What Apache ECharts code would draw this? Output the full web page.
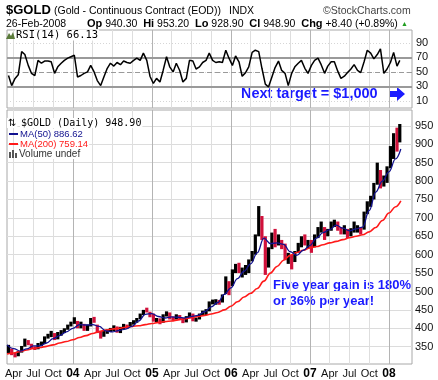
<!DOCTYPE html>
<html><head><meta charset="utf-8">
<script src="https://cdn.jsdelivr.net/npm/echarts@6/dist/echarts.min.js"></script>
<style>html,body{margin:0;padding:0;background:#fff}#c{width:438px;height:380px}</style>
</head><body><div id="c"></div>
<script>
// ---- data ----
const periods = [
'2003-03-08','2003-03-23','2003-04-08','2003-04-23','2003-05-08','2003-05-23','2003-06-08','2003-06-23','2003-07-08','2003-07-23','2003-08-08','2003-08-23','2003-09-08','2003-09-23','2003-10-08','2003-10-23','2003-11-08','2003-11-23','2003-12-08','2003-12-23',
'2004-01-08','2004-01-23','2004-02-08','2004-02-23','2004-03-08','2004-03-23','2004-04-08','2004-04-23','2004-05-08','2004-05-23','2004-06-08','2004-06-23','2004-07-08','2004-07-23','2004-08-08','2004-08-23','2004-09-08','2004-09-23','2004-10-08','2004-10-23','2004-11-08','2004-11-23','2004-12-08','2004-12-23',
'2005-01-08','2005-01-23','2005-02-08','2005-02-23','2005-03-08','2005-03-23','2005-04-08','2005-04-23','2005-05-08','2005-05-23','2005-06-08','2005-06-23','2005-07-08','2005-07-23','2005-08-08','2005-08-23','2005-09-08','2005-09-23','2005-10-08','2005-10-23','2005-11-08','2005-11-23','2005-12-08','2005-12-23',
'2006-01-08','2006-01-23','2006-02-08','2006-02-23','2006-03-08','2006-03-23','2006-04-08','2006-04-23','2006-05-08','2006-05-23','2006-06-08','2006-06-23','2006-07-08','2006-07-23','2006-08-08','2006-08-23','2006-09-08','2006-09-23','2006-10-08','2006-10-23','2006-11-08','2006-11-23','2006-12-08','2006-12-23',
'2007-01-08','2007-01-23','2007-02-08','2007-02-23','2007-03-08','2007-03-23','2007-04-08','2007-04-23','2007-05-08','2007-05-23','2007-06-08','2007-06-23','2007-07-08','2007-07-23','2007-08-08','2007-08-23','2007-09-08','2007-09-23','2007-10-08','2007-10-23','2007-11-08','2007-11-23','2007-12-08','2007-12-23',
'2008-01-08','2008-01-23','2008-02-08','2008-02-21'];

const closes = [
337,334,326,335,350,364,358,346,345,355,360,375,380,386,372,385,390,398,407,416,
425,405,410,398,405,425,423,395,385,389,391,397,404,390,399,410,405,413,418,425,437,447,445,438,
422,424,414,435,440,428,424,435,428,418,430,438,424,424,437,440,446,468,472,473,471,489,530,517,
556,570,555,560,560,585,605,650,720,655,570,617,650,635,640,625,590,598,585,605,625,645,630,635,
620,650,670,672,650,665,685,685,670,665,670,655,668,670,673,670,715,735,755,790,830,790,805,835,
885,925,910,949];
const highs = [
355,345,333,338,352,372,368,358,351,360,364,378,385,393,387,390,395,400,410,418,
430,420,418,412,410,428,431,410,393,395,397,401,408,405,404,412,410,417,422,428,440,450,456,445,
440,428,427,438,446,443,432,438,436,428,433,443,440,429,440,448,452,473,478,479,477,492,541,528,
560,575,578,565,572,587,610,655,732,705,650,620,660,670,655,640,630,605,600,610,632,650,655,640,
640,655,675,690,675,670,690,695,690,675,680,670,672,690,680,675,717,745,760,795,850,830,815,840,
895,930,945,955];
const lows = [
333,327,321,324,334,350,354,344,341,343,352,357,372,376,368,370,380,387,396,405,
412,400,400,393,393,405,415,387,372,377,385,390,392,388,387,398,398,404,410,415,425,436,443,430,
418,417,411,415,432,424,421,424,424,414,416,428,419,418,424,434,436,446,465,464,464,470,493,490,
515,550,550,538,545,550,582,600,650,640,545,565,615,620,625,615,585,575,560,580,605,620,625,617,
605,620,645,660,640,650,665,675,665,655,655,645,650,660,660,655,668,710,730,750,790,780,785,795,
835,860,880,905];
const rsiValues = [
45,31,41,46,78,74,59,48,45,66,62,65,65,64,48,57,62,66,69,71,
73,43,45,48,50,59,50,38,31,43,55,62,58,63,60,65,63,62,66,69,66,76,66,44,
34,41,36,52,71,57,50,62,52,36,41,66,65,54,57,63,66,76,66,63,64,63,80,69,
59,72,64,44,49,57,77,80,78,55,33,29,43,56,65,52,48,31,48,57,62,66,55,48,
59,66,69,60,48,58,64,64,51,41,44,49,54,60,52,49,64,80,76,68,74,82,48,54,
63,77,58,66];

const maDates = [
'2003-03-01','2003-04-01','2003-05-01','2003-06-01','2003-07-01','2003-08-01','2003-09-01','2003-10-01','2003-11-01','2003-12-01',
'2004-01-01','2004-02-01','2004-03-01','2004-04-01','2004-05-01','2004-06-01','2004-07-01','2004-08-01','2004-09-01','2004-10-01','2004-11-01','2004-12-01',
'2005-01-01','2005-02-01','2005-03-01','2005-04-01','2005-05-01','2005-06-01','2005-07-01','2005-08-01','2005-09-01','2005-10-01','2005-11-01','2005-12-01',
'2006-01-01','2006-02-01','2006-03-01','2006-04-01','2006-05-01','2006-06-01','2006-07-01','2006-08-01','2006-09-01','2006-10-01','2006-11-01','2006-12-01',
'2007-01-01','2007-02-01','2007-03-01','2007-04-01','2007-05-01','2007-06-01','2007-07-01','2007-08-01','2007-09-01','2007-10-01','2007-11-01','2007-12-01',
'2008-01-01','2008-02-01','2008-02-26'];
const ma50 = [
355,345,338,344,352,352,360,372,380,390,
400,410,409,410,405,393,390,394,398,405,420,438,
440,432,428,431,430,428,432,435,445,458,470,492,
510,535,555,575,605,645,630,632,628,608,598,612,
625,645,660,668,680,672,665,670,675,720,770,800,
825,860,887];
const ma200 = [
330,333,337,341,345,348,351,355,360,364,
369,375,380,386,391,395,398,400,403,405,407,410,
413,416,418,420,423,426,429,432,435,439,443,450,
460,472,485,495,508,528,550,568,585,598,606,612,
618,622,627,632,636,641,646,650,654,662,674,693,
713,730,746,759];

const quarterDates = ['2003-04-01','2003-07-01','2003-10-01','2004-01-01','2004-04-01','2004-07-01','2004-10-01','2005-01-01','2005-04-01','2005-07-01','2005-10-01','2006-01-01','2006-04-01','2006-07-01','2006-10-01','2007-01-01','2007-04-01','2007-07-01','2007-10-01','2008-01-01'];
const quarterLabels = ['Apr','Jul','Oct','04','Apr','Jul','Oct','05','Apr','Jul','Oct','06','Apr','Jul','Oct','07','Apr','Jul','Oct','08'];
const priceTicks = [350,400,450,500,550,600,650,700,750,800,850,900,950];
const rsiTicks = [10,30,50,70,90];
const rsiBands = [30,50,70];

// ---- build ----
const toM = s => { const [y,m,d] = s.split('-').map(Number); return (y-2003)*12 + (m-1) + (d-1)/31; };
const qMonths = quarterDates.map(toM);
const priceData = periods.map((p,i) => [toM(p), i ? closes[i-1] : closes[0], closes[i], lows[i], highs[i], (i === 0 || closes[i] >= closes[i-1]) ? 1 : 0]);
const rsiData = periods.map((p,i) => [toM(p), rsiValues[i]]);
const ma50Data = maDates.map((d,i) => [toM(d), ma50[i]]);
const ma200Data = maDates.map((d,i) => [toM(d), ma200[i]]);

const X_MIN = 2, X_MAX = 63.5;
const FONT = '"Liberation Sans", Arial, sans-serif';
const gridLineColors = ['#dedede','#dedede','#dedede','#b4b4b4'];

function xAxisCfg(gridIndex, showLabels) {
  return {
    type: 'value', gridIndex, min: X_MIN, max: X_MAX,
    axisLine: {show: false},
    axisTick: {show: true, length: 0, customValues: qMonths},
    axisLabel: {
      show: showLabels, customValues: qMonths, margin: 4,
      fontFamily: FONT, fontSize: 11, color: '#111',
      formatter: v => {
        let k = 0, best = 1e9;
        qMonths.forEach((q, j) => { if (Math.abs(q - v) < best) { best = Math.abs(q - v); k = j; } });
        const t = quarterLabels[k];
        return /^\d/.test(t) ? '{y|' + t + '}' : t;
      },
      rich: {y: {fontFamily: FONT, fontWeight: 'bold', fontSize: 12, color: '#000'}}
    },
    splitLine: {show: true, lineStyle: {color: gridLineColors, width: 1}}
  };
}

function legendText(x, y, text, font, fill) {
  return {type: 'text', x, y, z: 100, style: {text, font, fill, verticalAlign: 'middle', backgroundColor: '#fff', padding: [0, 1, 0, 1]}};
}

const chart = echarts.init(document.getElementById('c'), null, {renderer: 'canvas'});
chart.setOption({
  backgroundColor: '#fff',
  animation: false,
  grid: [
    {left: 7, right: 26, top: 30, height: 78, show: true, borderColor: '#a8a8a8', borderWidth: 1, backgroundColor: '#fff'},
    {left: 7, right: 26, top: 110, height: 254, show: true, borderColor: '#a8a8a8', borderWidth: 1, backgroundColor: '#fff'}
  ],
  xAxis: [xAxisCfg(0, false), xAxisCfg(1, true)],
  yAxis: [
    {type: 'value', gridIndex: 0, position: 'right', min: 0, max: 108,
     axisLine: {show: false}, axisTick: {show: true, length: 0, customValues: rsiTicks},
     axisLabel: {customValues: rsiTicks, margin: 4, fontFamily: FONT, fontSize: 11, color: '#111'},
     splitLine: {show: true, lineStyle: {color: '#d6d6d6', type: [1, 2]}}},
    {type: 'value', gridIndex: 1, position: 'right', min: 303, max: 993,
     axisLine: {show: false}, axisTick: {show: true, length: 0, customValues: priceTicks},
     axisLabel: {customValues: priceTicks, margin: 3, fontFamily: FONT, fontSize: 11, color: '#111'},
     splitLine: {show: true, lineStyle: {color: '#dcdcdc', width: 1}}}
  ],
  series: [
    {type: 'line', xAxisIndex: 0, yAxisIndex: 0, data: rsiData, showSymbol: false,
     lineStyle: {color: '#000', width: 1.5}, z: 5,
     markLine: {silent: true, symbol: 'none', label: {show: false},
       data: rsiBands.map(v => ({yAxis: v, lineStyle: {color: '#9a9a9a', width: v === 50 ? 1.2 : 1.8, type: v === 50 ? [5, 3] : 'solid'}}))}},
    {type: 'custom', xAxisIndex: 1, yAxisIndex: 1, data: priceData, z: 3,
     encode: {x: 0, y: [3, 4]},
     renderItem: (params, api) => {
       const x = api.value(0);
       const top = api.coord([x, api.value(4)]);
       const bot = api.coord([x, api.value(3)]);
       const col = api.value(5) ? '#000' : '#d1113b';
       const w = 3.2;
       return {type: 'rect', shape: {x: top[0] - w / 2, y: top[1], width: w, height: Math.max(1, bot[1] - top[1])}, style: {fill: col}};
     }},
    {type: 'line', xAxisIndex: 1, yAxisIndex: 1, data: ma200Data, showSymbol: false, smooth: 0.4, smoothMonotone: 'x',
     lineStyle: {color: '#ff1a1a', width: 1.6}, z: 6},
    {type: 'line', xAxisIndex: 1, yAxisIndex: 1, data: ma50Data, showSymbol: false, smooth: 0.4, smoothMonotone: 'x',
     lineStyle: {color: '#12128f', width: 1.3}, z: 7}
  ],
  graphic: [
    {type: 'text', x: 6, y: 10, style: {text: '$GOLD', font: 'bold 13px ' + FONT, fill: '#000', verticalAlign: 'middle'}},
    {type: 'text', x: 54, y: 11, style: {text: '(Gold - Continuous Contract (EOD))', font: '10.5px ' + FONT, fill: '#000', verticalAlign: 'middle'}},
    {type: 'text', x: 229, y: 11, style: {text: 'INDX', font: '10.5px ' + FONT, fill: '#000', verticalAlign: 'middle'}},
    {type: 'text', x: 323, y: 11, style: {text: '\u00A9StockCharts.com', font: '10.5px ' + FONT, fill: '#444', verticalAlign: 'middle'}},
    {type: 'text', x: 6, y: 24, style: {text: '26-Feb-2008', font: '10.5px ' + FONT, fill: '#000', verticalAlign: 'middle'}},
    {type: 'text', x: 87, y: 24, style: {
      text: '{b|Op} 940.30  {b|Hi} 953.20  {b|Lo} 928.90  {b|Cl} 948.90  {b|Chg} +8.40 (+0.89%)',
      font: '10.5px ' + FONT, fill: '#000', verticalAlign: 'middle',
      rich: {b: {font: 'bold 11px ' + FONT, fill: '#000'}}}},
    {type: 'text', x: 401, y: 24, style: {text: '\u25B2', font: '7px ' + FONT, fill: '#1f9d1f', verticalAlign: 'middle'}},
    {type: 'polygon', z: 100, shape: {points: [[6,39],[9,33],[11,36],[13,32],[15,39]]}, style: {fill: '#5a7a3a'}},
    legendText(15, 35, 'RSI(14) 66.13', '10.5px "DejaVu Sans Mono", monospace', '#000'),
    legendText(7, 123, '\u21C5', '10px "DejaVu Sans", sans-serif', '#000'),
    legendText(20, 123, '$GOLD (Daily) 948.90', '10px "DejaVu Sans Mono", monospace', '#000'),
    legendText(19, 134, 'MA(50) 886.62', '9.5px ' + FONT, '#12128f'),
    legendText(19, 144, 'MA(200) 759.14', '9.5px ' + FONT, '#ff1a1a'),
    legendText(18, 154, 'Volume undef', '10px ' + FONT, '#333'),
    {type: 'line', z: 100, shape: {x1: 9, y1: 134, x2: 18, y2: 134}, style: {stroke: '#12128f', lineWidth: 2}},
    {type: 'line', z: 100, shape: {x1: 9, y1: 144, x2: 18, y2: 144}, style: {stroke: '#ff1a1a', lineWidth: 2}},
    {type: 'rect', z: 100, shape: {x: 9, y: 152, width: 2, height: 6}, style: {fill: '#555'}},
    {type: 'rect', z: 100, shape: {x: 12, y: 150, width: 2, height: 8}, style: {fill: '#555'}},
    {type: 'rect', z: 100, shape: {x: 15, y: 153, width: 2, height: 5}, style: {fill: '#555'}},
    {type: 'text', x: 241, y: 94, style: {text: 'Next target = $1,000', font: 'bold 14.5px ' + FONT, fill: '#1a1aff', verticalAlign: 'middle'}},
    {type: 'polygon', shape: {points: [[389,91],[397,91],[397,87],[405,94],[397,101],[397,97],[389,97]]}, style: {fill: '#1a1aff'}},
    {type: 'text', x: 273, y: 285, style: {text: 'Five year gain is 180%', font: 'bold 13px ' + FONT, fill: '#1a1aff', verticalAlign: 'middle'}},
    {type: 'text', x: 273, y: 301, style: {text: 'or 36% per year!', font: 'bold 13px ' + FONT, fill: '#1a1aff', verticalAlign: 'middle'}}
  ]
});
</script></body></html>
